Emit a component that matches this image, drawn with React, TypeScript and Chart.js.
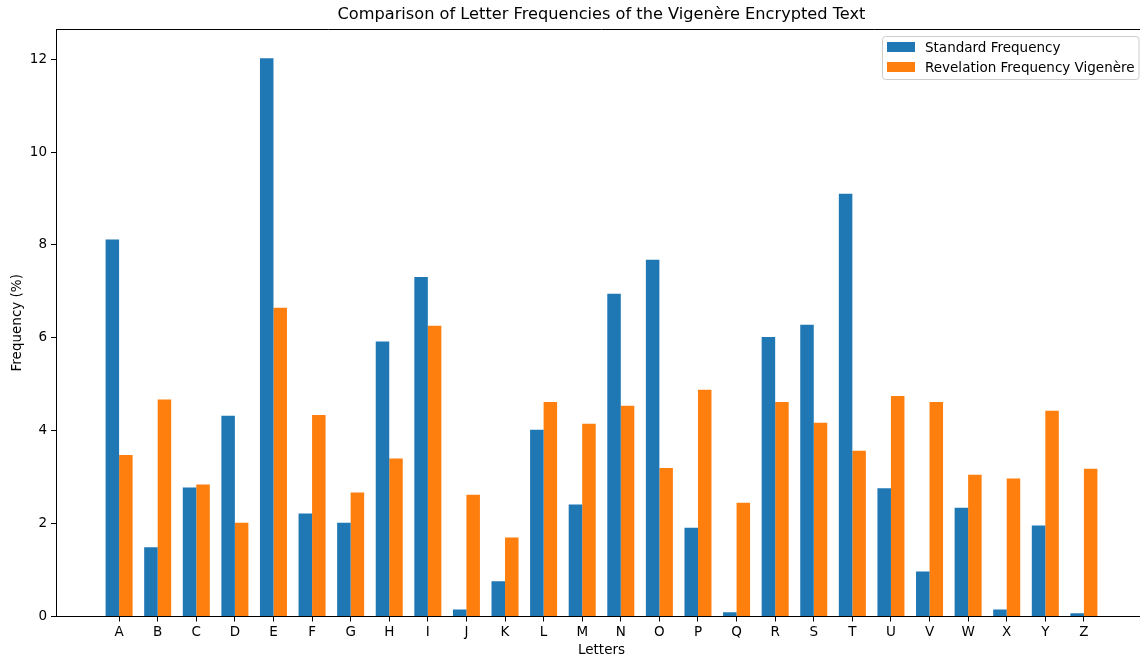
import React, { useEffect, useRef } from "react";
import { Chart, registerables } from "chart.js";

Chart.register(...registerables);

const letters = ["A","B","C","D","E","F","G","H","I","J","K","L","M","N","O","P","Q","R","S","T","U","V","W","X","Y","Z"];
const standardFreq = [8.12,1.49,2.78,4.32,12.02,2.22,2.02,5.92,7.31,0.15,0.76,4.02,2.41,6.95,7.68,1.91,0.09,6.02,6.28,9.10,2.76,0.97,2.34,0.15,1.96,0.07];
const revelationFreq = [3.48,4.67,2.84,2.02,6.65,4.34,2.67,3.40,6.26,2.62,1.70,4.62,4.15,4.54,3.20,4.88,2.45,4.62,4.17,3.57,4.75,4.62,3.05,2.97,4.43,3.18];
const yTicks = [0, 2, 4, 6, 8, 10, 12];
const seriesNames = ["Standard Frequency", "Revelation Frequency Vigenère"];
const seriesColors = ["#1f77b4", "#ff7f0e"];
const chartTitle = "Comparison of Letter Frequencies of the Vigenère Encrypted Text";
const xTitle = "Letters";
const yTitle = "Frequency (%)";

const FONT = "'DejaVu Sans', sans-serif";
const FS = 13.5;

const decorPlugin = {
  id: "decor",
  afterDraw(chart: any) {
    const ctx = chart.ctx;
    const a = chart.chartArea;
    ctx.save();
    // top spine
    ctx.strokeStyle = "#000";
    ctx.lineWidth = 1;
    ctx.beginPath();
    ctx.moveTo(a.left, a.top + 0.5);
    ctx.lineTo(a.right, a.top + 0.5);
    ctx.stroke();
    // title
    const cx = (a.left + a.right) / 2;
    ctx.fillStyle = "#000";
    ctx.textAlign = "center";
    ctx.textBaseline = "middle";
    ctx.font = `16.2px ${FONT}`;
    ctx.fillText(chartTitle, cx, 15);
    // x title
    ctx.font = `${FS}px ${FONT}`;
    ctx.fillText(xTitle, cx, 650);
    // y title
    ctx.save();
    ctx.translate(17, (a.top + a.bottom) / 2);
    ctx.rotate(-Math.PI / 2);
    ctx.fillText(yTitle, 0, 0);
    ctx.restore();
    // legend
    const bx = 882.5, by = 36.5, bw = 256.5, bh = 43;
    ctx.beginPath();
    const r = 3;
    ctx.moveTo(bx + r, by);
    ctx.lineTo(bx + bw - r, by);
    ctx.arcTo(bx + bw, by, bx + bw, by + r, r);
    ctx.lineTo(bx + bw, by + bh - r);
    ctx.arcTo(bx + bw, by + bh, bx + bw - r, by + bh, r);
    ctx.lineTo(bx + r, by + bh);
    ctx.arcTo(bx, by + bh, bx, by + bh - r, r);
    ctx.lineTo(bx, by + r);
    ctx.arcTo(bx, by, bx + r, by, r);
    ctx.closePath();
    ctx.fillStyle = "rgba(255,255,255,0.8)";
    ctx.fill();
    ctx.strokeStyle = "#cccccc";
    ctx.stroke();
    ctx.textAlign = "left";
    ctx.font = `${FS}px ${FONT}`;
    const rows = [47, 67];
    for (let i = 0; i < seriesNames.length; i++) {
      ctx.fillStyle = seriesColors[i];
      ctx.fillRect(887, rows[i] - 5, 28, 10);
      ctx.fillStyle = "#000";
      ctx.fillText(seriesNames[i], 925, rows[i] + 1);
    }
    ctx.restore();
  },
};

export default function App() {
  const ref = useRef<HTMLCanvasElement>(null);
  useEffect(() => {
    if (!ref.current) return;
    Chart.defaults.font.family = FONT;
    const chart = new Chart(ref.current, {
      type: "bar",
      data: {
        datasets: [
          {
            label: seriesNames[0],
            data: letters.map((_, i) => ({ x: i, y: standardFreq[i] })),
            backgroundColor: seriesColors[0],
            borderWidth: 0,
          },
          {
            label: seriesNames[1],
            data: letters.map((_, i) => ({ x: i, y: revelationFreq[i] })),
            backgroundColor: seriesColors[1],
            borderWidth: 0,
          },
        ],
      },
      options: {
        responsive: false,
        animation: false,
        categoryPercentage: 0.7,
        barPercentage: 1.0,
        layout: { padding: { left: 1, right: 3, top: 29, bottom: 0 } },
        plugins: {
          legend: { display: false },
          tooltip: { enabled: false },
          title: { display: false },
        },
        scales: {
          x: {
            type: "linear",
            offset: false,
            min: -1.635,
            max: 26.635,
            afterBuildTicks: (scale: any) => {
              scale.ticks = letters.map((_, i) => ({ value: i }));
            },
            afterFit: (scale: any) => {
              scale.height = 42.5;
            },
            ticks: {
              autoSkip: false,
              maxRotation: 0,
              padding: 3,
              color: "#000",
              font: { size: FS },
              callback: (v: any) => letters[v] ?? "",
            },
            grid: {
              offset: false,
              drawOnChartArea: false,
              drawTicks: true,
              tickLength: 5,
              color: "#000",
            },
            border: { display: true, color: "#000", width: 1 },
          },
          y: {
            type: "linear",
            min: 0,
            max: 12.65,
            afterBuildTicks: (scale: any) => {
              scale.ticks = yTicks.map((v) => ({ value: v }));
            },
            afterFit: (scale: any) => {
              scale.width = 55;
            },
            ticks: {
              padding: 4,
              color: "#000",
              font: { size: FS },
            },
            grid: {
              drawOnChartArea: false,
              drawTicks: true,
              tickLength: 5,
              color: "#000",
            },
            border: { display: true, color: "#000", width: 1 },
          },
        },
      } as any,
      plugins: [decorPlugin],
    });
    return () => chart.destroy();
  }, []);
  return (
    <div
      style={{
        position: "fixed",
        left: 0,
        top: 0,
        width: 1140,
        height: 659,
        overflow: "hidden",
        background: "#fff",
      }}
    >
      <canvas ref={ref} width={1150} height={659} style={{ display: "block" }} />
    </div>
  );
}
